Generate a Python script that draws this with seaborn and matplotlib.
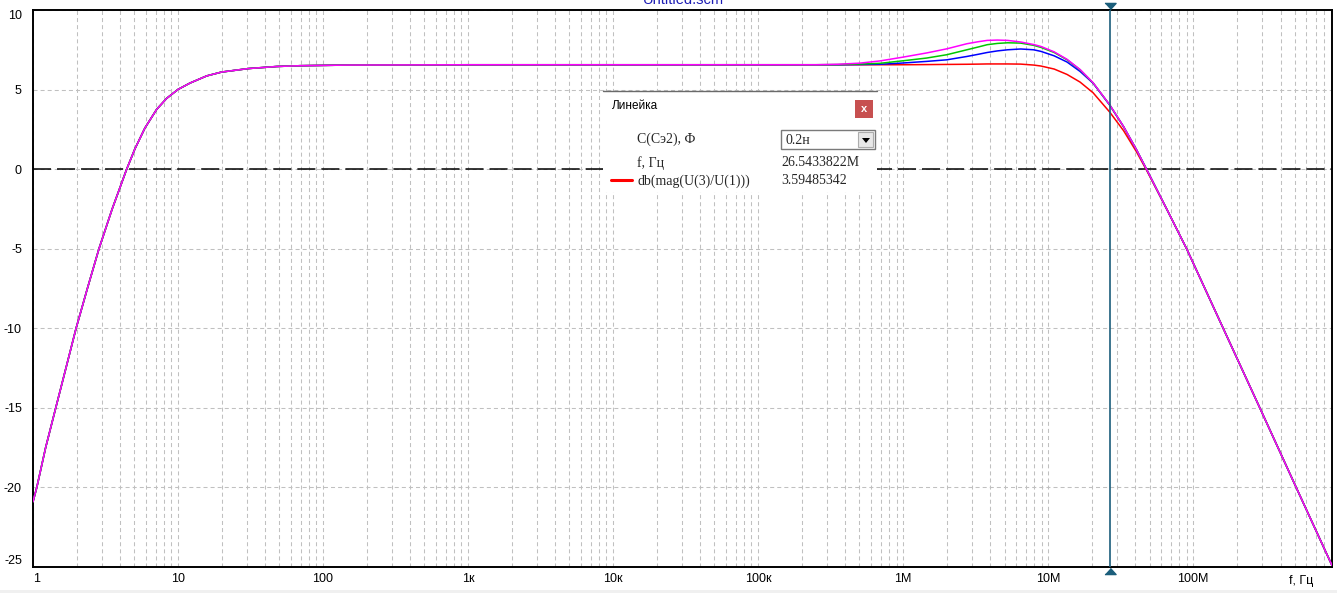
import matplotlib
matplotlib.use("Agg")
import matplotlib.pyplot as plt
import seaborn as sns
from matplotlib.patches import Rectangle, Polygon
from matplotlib.lines import Line2D
from matplotlib.transforms import blended_transform_factory
from matplotlib.ticker import FixedLocator, FixedFormatter, LogLocator, NullFormatter

# ---------------- data ----------------
# shared low-frequency part (all four curves coincide), Hz / dB
freq_low = [1.0, 1.062, 1.222, 1.435, 1.687, 1.982, 2.371, 2.851, 3.516, 4.426,
            5.047, 5.916, 7.129, 8.356, 10.0, 12.1, 15.78, 19.95, 30.55, 47.86,
            69.2, 150.0, 1.0e3, 1.0e4, 1.0e5]
db_low = [-20.9, -20.0, -17.5, -15.0, -12.5, -10.0, -7.5, -5.0, -2.5, 0.0,
          1.28, 2.59, 3.76, 4.45, 5.01, 5.41, 5.86, 6.10, 6.32, 6.45,
          6.50, 6.54, 6.56, 6.56, 6.56]

# parameter-sweep region, Hz / dB per curve
freq_mid = [2.51e5, 3.55e5, 5.01e5, 6.92e5, 1.0e6, 1.45e6, 2.0e6, 2.75e6, 3.31e6,
            3.8e6, 4.47e6, 5.25e6, 6.46e6, 7.94e6, 8.91e6, 11.0e6, 13.5e6, 16.6e6,
            20.4e6, 26.54e6, 33.1e6, 40.7e6, 47.9e6]
db_mid_magenta = [6.56, 6.59, 6.66, 6.80, 7.04, 7.30, 7.56, 7.88, 8.01,
                  8.09, 8.11, 8.09, 7.99, 7.83, 7.71, 7.37, 6.90, 6.26,
                  5.43, 4.05, 2.68, 1.21, -0.04]
db_mid_green = [6.56, 6.57, 6.60, 6.65, 6.81, 6.98, 7.19, 7.50, 7.68,
                7.82, 7.90, 7.94, 7.92, 7.78, 7.65, 7.33, 6.87, 6.24,
                5.42, 4.04, 2.67, 1.21, -0.04]
db_mid_blue = [6.56, 6.56, 6.57, 6.59, 6.67, 6.77, 6.87, 7.08, 7.22,
               7.33, 7.43, 7.50, 7.55, 7.50, 7.40, 7.12, 6.73, 6.14,
               5.40, 4.03, 2.67, 1.21, -0.04]
db_mid_red = [6.56, 6.56, 6.56, 6.56, 6.56, 6.57, 6.58, 6.59, 6.60,
              6.61, 6.61, 6.61, 6.60, 6.54, 6.48, 6.29, 5.95, 5.47,
              4.80, 3.59, 2.42, 1.08, -0.10]

# shared high-frequency roll-off
freq_high = [66.1e6, 90.4e6, 161e6, 288e6, 513e6, 906e6]
db_high = [-2.56, -5.03, -10.0, -15.0, -20.0, -24.9]

series_names = ["red", "blue", "green", "magenta"]
series_colors = ["#ff0000", "#0000ff", "#00c800", "#ff00ff"]
series_mid = [db_mid_red, db_mid_blue, db_mid_green, db_mid_magenta]

x_ticks = [1, 10, 100, 1e3, 1e4, 1e5, 1e6, 1e7, 1e8]
x_tick_labels = ["1", "10", "100", "1к", "10к", "100к", "1M", "10M", "100M"]
y_ticks = [-25, -20, -15, -10, -5, 0, 5, 10]
x_min, x_max = 1.0, 9.06e8
y_min, y_max = -25, 10

cursor_freq = 26.5433822e6
param_label = "C(Cэ2), Ф"
param_value = "0.2н"
freq_label = "f, Гц"
freq_value = "26.5433822M"
expr_label = "db(mag(U(3)/U(1)))"
expr_value = "3.59485342"
title_text = "Untitled.scm"

# ---------------- style ----------------
sns.set_style("white")
plt.rcParams["font.family"] = ["Liberation Sans", "DejaVu Sans"]
plt.rcParams["lines.scale_dashes"] = False
plt.rcParams["axes.unicode_minus"] = False

W, H = 1337, 593
fig = plt.figure(figsize=(W / 100, H / 100), dpi=100)
fig.patch.set_facecolor("white")
ax = fig.add_axes([33 / W, (H - 567) / H, 1299 / W, 557 / H])
ax.set_facecolor("white")

for name, col, mid in zip(series_names, series_colors, series_mid):
    f = freq_low + freq_mid + freq_high
    d = db_low + mid + db_high
    sns.lineplot(x=f, y=d, ax=ax, color=col, linewidth=1.1,
                 estimator=None, sort=False, legend=False, zorder=3)

ax.set_xscale("log")
ax.set_xlim(x_min, x_max)
ax.set_ylim(y_min, y_max)
ax.set_xlabel("")
ax.set_ylabel("")

ax.xaxis.set_major_locator(FixedLocator(x_ticks))
ax.xaxis.set_major_formatter(FixedFormatter(x_tick_labels))
ax.xaxis.set_minor_locator(LogLocator(base=10, subs=[2, 3, 4, 5, 6, 7, 8, 9], numticks=20))
ax.xaxis.set_minor_formatter(NullFormatter())
ax.yaxis.set_major_locator(FixedLocator(y_ticks))

grid_kw = dict(color="#c0c0c0", linewidth=0.75, linestyle=(0, (2.9, 2.2)))
ax.grid(True, which="both", axis="x", **grid_kw)
ax.grid(True, which="major", axis="y", **grid_kw)
ax.set_axisbelow(True)

ax.axhline(0, color="black", linewidth=1.1, linestyle=(0, (13, 4.3)), zorder=2)

ax.tick_params(axis="both", which="both", length=0, labelsize=9, colors="black")
ax.tick_params(axis="x", pad=4.5)
ax.tick_params(axis="y", pad=8)
for sp in ax.spines.values():
    sp.set_color("black")
    sp.set_linewidth(1.4)

fig.canvas.draw()
xl = ax.get_xticklabels()
xl[0].set_ha("left")
yl = ax.get_yticklabels()
yl[0].set_va("bottom")
yl[-1].set_va("top")

# cursor
cur_col = "#1b5e7b"
ax.axvline(cursor_freq, color=cur_col, linewidth=1.2, zorder=4)
btr = blended_transform_factory(ax.transData, ax.transAxes)
tri_down = [(-1, 0.55), (1, 0.55), (0, -0.55)]
tri_up = [(-1, -0.55), (1, -0.55), (0, 0.55)]
ax.plot([cursor_freq], [1 + 4.5 / 557], marker=tri_down, markersize=8, color=cur_col,
        transform=btr, clip_on=False, zorder=5, linestyle="none")
ax.plot([cursor_freq], [-4.0 / 557], marker=tri_up, markersize=8, color=cur_col,
        transform=btr, clip_on=False, zorder=5, linestyle="none")

# ---------------- overlay (pixel coordinates) ----------------
ov = fig.add_axes([0, 0, 1, 1], zorder=10)
ov.set_xlim(0, W)
ov.set_ylim(H, 0)
ov.axis("off")
ov.patch.set_alpha(0)

# bottom window strip
ov.add_patch(Rectangle((0, 590), W, 3, facecolor="#f0f0f0", edgecolor="none"))
# title (cut at top like in the reference)
ov.text(683, 4, title_text, ha="center", va="baseline", fontsize=10.5, color="#1c1cb4")
# x axis name
ov.text(1301, 581, freq_label, ha="center", va="center", fontsize=9, color="black")

# ruler panel
ov.add_patch(Rectangle((603, 91), 274, 101, facecolor="white", edgecolor="none"))
ov.add_line(Line2D([603, 877], [91, 91], color="#6a6a6a", linewidth=1.0))
ov.text(612, 106, "Линейка", ha="left", va="center", fontsize=8.5, color="black")
ov.add_patch(Rectangle((855, 100), 18, 18, facecolor="#c75050", edgecolor="none"))
ov.text(864, 109, "x", ha="center", va="center", fontsize=8, color="white", fontweight="bold")

serif = ["Liberation Serif", "DejaVu Serif"]
ov.text(637, 139, param_label, ha="left", va="center", fontsize=10, family=serif)
ov.add_patch(Rectangle((781, 130), 94, 19, facecolor="white", edgecolor="#7a7a7a", linewidth=1))
ov.text(785, 140, param_value, ha="left", va="center", fontsize=10, family=serif)
ov.add_patch(Rectangle((858, 132), 15, 15, facecolor="#e8e8e8", edgecolor="#adadad", linewidth=0.8))
ov.add_patch(Polygon([(862, 138), (870, 138), (866, 143)], closed=True, facecolor="black", edgecolor="none"))

ov.text(637, 163, freq_label, ha="left", va="center", fontsize=10, family=serif)
ov.text(781, 163, freq_value, ha="left", va="center", fontsize=10, family=serif)
ov.add_line(Line2D([611, 632], [180, 180], color="#ff0000", linewidth=2.2))
ov.text(637, 181, expr_label, ha="left", va="center", fontsize=10, family=serif)
ov.text(781, 181, expr_value, ha="left", va="center", fontsize=10, family=serif)

fig.savefig("out.png", dpi=100, facecolor="white")
